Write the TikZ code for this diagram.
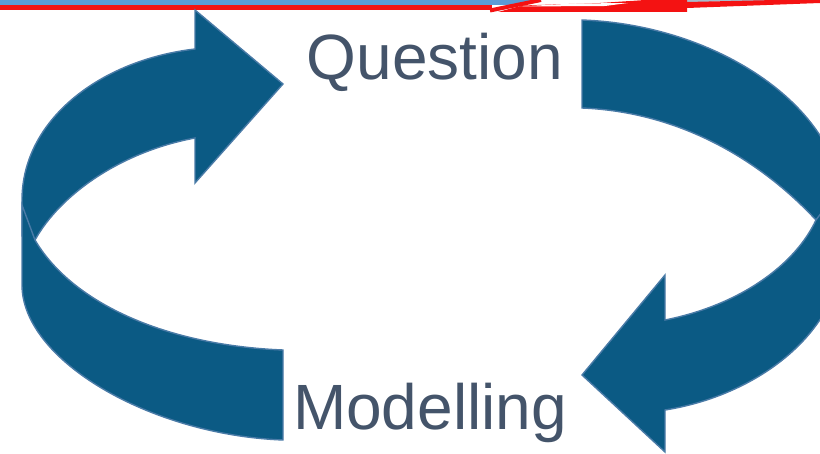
\documentclass[tikz,border=0pt]{standalone}
\usepackage{fontspec}
\newfontfamily\cyclefont{Liberation Sans}
\definecolor{arrowblue}{HTML}{0B5A84}
\definecolor{rimblue}{HTML}{4A7BA7}
\definecolor{labelgrey}{HTML}{44546A}
\definecolor{stripblue}{HTML}{5B9BD5}
\definecolor{stripred}{HTML}{F41212}
\tikzset{
  bandarrow/.style={fill=arrowblue, draw=rimblue, line width=1.4pt, line join=miter},
  steplabel/.style={anchor=base, inner sep=0pt, text=labelgrey, font=\cyclefont\fontsize{64}{70}\selectfont},
  redline/.style={draw=stripred, line cap=butt}
}
\begin{document}
\begin{tikzpicture}[x=1pt, y=-1pt]
  \useasboundingbox (0,0) rectangle (820,454);
  \clip (0,0) rectangle (820,454);
  % strip at the top edge
  \fill[stripblue] (0,0) -- (540,0) -- (517,5) -- (0,5) -- cycle;
  \fill[stripblue!50!gray!60] (650,0) -- (820,0) -- (820,0.5) -- (690,2) -- cycle;
  \fill[stripred] (0,5) -- (492,5) -- (492,10.5) -- (0,10.5) -- cycle;
  \fill[stripred] (498,12) -- (687,12) -- (687,0) -- (645,0) -- (600,3) -- (522,5.5) -- cycle;
  \fill[stripred] (687,2) -- (820,-1) -- (820,3) -- (687,8) -- cycle;
  \draw[redline, line width=4pt] (490,10.5) -- (541,0);
  \fill[white] (518,6.5) -- (575,3.5) -- (628,3) -- (605,6) -- cycle;
  \fill[white] (598,0) -- (640,0) -- (605,1.5) -- cycle;
  % arrows of the cycle
  \draw[bandarrow] (195,49) .. controls (100,60) and (22,120) .. (22,200)
    -- (22,236) -- (35,240) .. controls (60,195) and (120,152) .. (195,138)
    -- (195,183) -- (283,84) -- (195,10) -- cycle;
  \draw[bandarrow] (22,205) -- (22,285) .. controls (22,360) and (150,435) .. (283,440)
    -- (283,350) .. controls (160,345) and (70,300) .. (35,240) -- cycle;
  \draw[bandarrow] (582,20) .. controls (720,25) and (842,110) .. (842,205)
    -- (842,260) -- (816,220) .. controls (760,160) and (680,112) .. (582,108) -- cycle;
  \draw[bandarrow] (842,185) -- (816,220) .. controls (795,265) and (740,305) .. (665,320)
    -- (665,275) -- (582,375) -- (665,452) -- (665,410)
    .. controls (760,395) and (842,330) .. (842,250) -- cycle;
  % labels
  \node[steplabel] (question) at (435,80) {Question};
  \node[steplabel] (modelling) at (430,430) {Modelling};
\end{tikzpicture}
\end{document}
